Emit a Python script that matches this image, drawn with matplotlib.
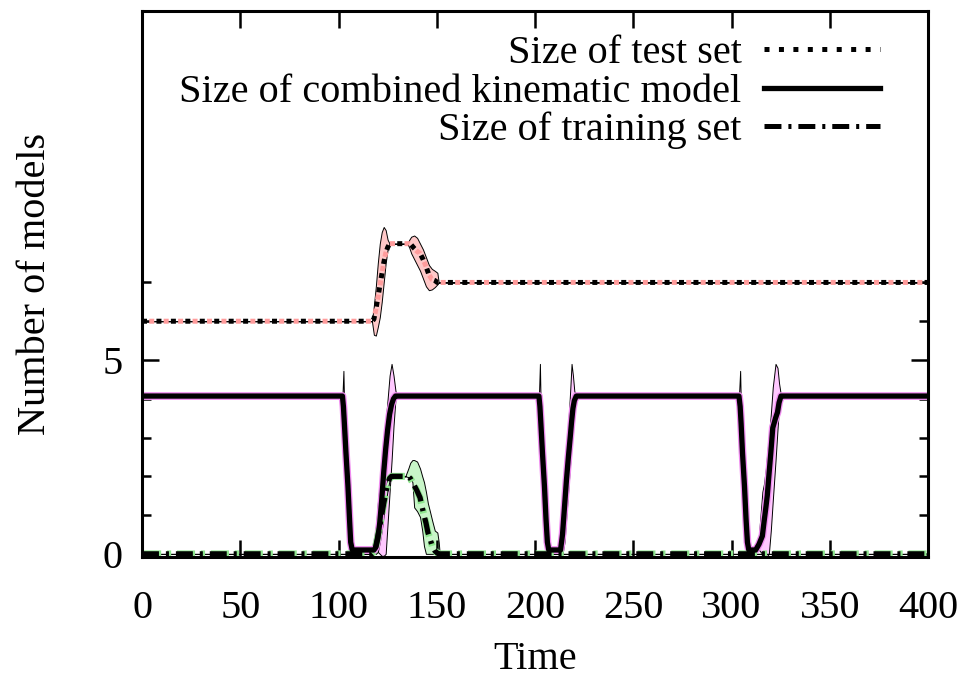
import matplotlib
matplotlib.use("Agg")
import matplotlib.pyplot as plt
from matplotlib.lines import Line2D
from matplotlib.ticker import FixedLocator

plt.rcParams['font.family'] = ['Liberation Serif', 'DejaVu Serif']
plt.rcParams['lines.scale_dashes'] = False

# ---------------- data ----------------
# Size of test set
test_t = [0, 117, 118, 119, 120, 121, 122, 123, 124, 125, 126, 130, 135, 136, 137, 138.5,
          140, 141.5, 143, 144.5, 146, 147.5, 149, 150.3, 151, 400]
test_mean = [6, 6, 6.05, 6.3, 6.6, 6.9, 7.2, 7.5, 7.75, 7.9, 8.0, 8.0, 8.0, 8.0, 7.97, 7.88,
             7.8, 7.75, 7.6, 7.42, 7.2, 7.08, 7.05, 7.0, 7.0, 7.0]
test_hi = [6, 6, 6.4, 6.9, 7.5, 8.0, 8.3, 8.43, 8.35, 8.1, 8.0, 8.0, 8.0, 8.1, 8.18, 8.21,
           8.15, 8.0, 7.85, 7.65, 7.45, 7.35, 7.3, 7.25, 7.0, 7.0]
test_lo = [6, 6, 5.65, 5.63, 5.85, 6.1, 6.5, 7.0, 7.5, 7.85, 8.0, 8.0, 8.0, 7.9, 7.75, 7.6,
           7.45, 7.3, 7.1, 6.9, 6.8, 6.82, 6.88, 6.95, 7.0, 7.0]

# Size of combined kinematic model
comb_t = [0, 102.0, 102.5, 103.0, 103.8, 104.8, 105.6, 106.2, 107.0,
          118, 119, 120, 121, 122, 123, 124, 125, 126, 127, 128, 129, 130,
          202.0, 202.5, 203.0, 203.8, 204.8, 205.6, 206.3, 207.0,
          213.0, 214.0, 215.0, 216.0, 217.0, 218.0, 218.6, 219.3, 220.0, 221.0,
          303.8, 304.4, 304.9, 305.6, 306.6, 307.4, 308.1, 308.8,
          312.3, 314.0, 315.7, 316.5, 317.5, 318.2, 319.0, 320.0, 321.0, 322.4, 323.4, 324.2, 325.2, 326.0,
          400]
comb_mean = [4.07, 4.07, 3.8, 3.35, 2.6, 1.75, 0.9, 0.3, 0.1,
             0.1, 0.17, 0.4, 0.8, 1.4, 2.1, 2.7, 3.2, 3.6, 3.85, 4.0, 4.07, 4.07,
             4.07, 3.8, 3.35, 2.6, 1.75, 0.9, 0.3, 0.1,
             0.1, 0.5, 1.2, 1.9, 2.5, 3.05, 3.4, 3.75, 3.95, 4.07,
             4.07, 3.8, 3.35, 2.6, 1.75, 0.9, 0.3, 0.1,
             0.1, 0.25, 0.46, 0.8, 1.2, 1.5, 2.0, 2.6, 3.25, 3.5, 3.65, 3.9, 4.07, 4.07,
             4.07]
comb_hi = [4.07, 4.07, 4.72, 3.45, 2.7, 1.85, 1.0, 0.35, 0.1,
           0.1, 0.6, 1.3, 1.8, 2.2, 2.8, 3.4, 4.0, 4.6, 4.9, 4.6, 4.2, 4.07,
           4.07, 4.9, 3.45, 2.7, 1.85, 1.0, 0.35, 0.1,
           0.1, 1.0, 1.8, 2.6, 3.4, 4.3, 4.9, 4.6, 4.2, 4.07,
           4.07, 4.72, 3.45, 2.7, 1.85, 1.0, 0.35, 0.1,
           0.1, 0.5, 1.6, 1.8, 2.2, 2.6, 3.0, 3.6, 4.3, 4.9, 4.8, 4.4, 4.07, 4.07,
           4.07]
comb_lo = [4.07, 4.07, 3.7, 3.25, 2.5, 1.65, 0.8, 0.25, 0.1,
           0.1, 0.1, 0.05, 0.0, -0.05, -0.05, 0.0, 0.8, 1.6, 2.4, 3.3, 4.0, 4.07,
           4.07, 3.7, 3.25, 2.5, 1.65, 0.8, 0.25, 0.1,
           0.1, 0.0, 0.3, 1.0, 1.7, 2.4, 2.9, 3.4, 3.8, 4.07,
           4.07, 3.7, 3.25, 2.5, 1.65, 0.8, 0.25, 0.1,
           0.1, 0.1, 0.0, -0.05, -0.05, -0.05, 0.0, 0.6, 1.37, 2.4, 3.2, 3.8, 4.07, 4.07,
           4.07]

# Size of training set
train_t = [0, 117, 118, 119, 120, 121, 122, 123, 124, 125, 126, 127, 134, 135.5, 136.5, 137.6,
           138.5, 140, 141.5, 142.6, 143.5, 144.5, 145.5, 146.5, 147.7, 149, 150.3, 151, 151.5, 400]
train_mean = [0, 0, 0.05, 0.2, 0.45, 0.7, 1.0, 1.3, 1.55, 1.8, 1.95, 2.0, 2.0, 2.0, 1.95, 1.85,
              1.77, 1.62, 1.45, 1.2, 1.0, 0.8, 0.55, 0.4, 0.2, 0.08, 0.02, 0, 0, 0]
train_hi = [0, 0, 0.3, 0.7, 1.0, 1.2, 1.4, 1.6, 1.8, 1.95, 2.0, 2.0, 2.0, 2.2, 2.35, 2.42,
            2.42, 2.38, 2.2, 2.0, 1.85, 1.6, 1.3, 1.1, 0.85, 0.6, 0.55, 0.3, 0, 0]
train_lo = [0, 0, 0, 0, 0.05, 0.3, 0.6, 1.0, 1.3, 1.65, 1.9, 2.0, 2.0, 1.98, 1.95, 1.85,
            1.2, 1.1, 0.95, 0.6, 0.2, 0.0, 0, 0, 0, 0, 0, 0, 0, 0]

labels = ["Size of test set", "Size of combined kinematic model", "Size of training set"]
x_ticks = [0, 50, 100, 150, 200, 250, 300, 350, 400]
y_major = [0, 5]
y_minor = [1, 2, 3, 4, 6, 7]

# ---------------- style ----------------
red_fill, red_line = '#ffc8c8', '#ff9c9c'
pur_fill, pur_line = '#ffc8ff', '#f08cf0'
grn_fill, grn_line = '#c8f5c8', '#8ee68e'

FS = 29
dot_ls = (0, (3.6, 6.8))
dot_ls_pink = (5.2, (3.6, 6.8))
dd_ls = (0, (12.2, 5.0, 2.2, 5.0))
dd_ls_green = (23.6, (13.0, 4.2, 3.0, 4.2))

fig = plt.figure(figsize=(9.7, 6.79), dpi=100)
ax = fig.add_axes([0.1464, 0.1797, 0.9567 - 0.1464, 0.9838 - 0.1797])

# bands
ax.fill_between(test_t, test_lo, test_hi, facecolor=red_fill, edgecolor='black', linewidth=0.7, zorder=1)
ax.fill_between(comb_t, comb_lo, comb_hi, facecolor=pur_fill, edgecolor='black', linewidth=0.7, zorder=1)
ax.fill_between(train_t, train_lo, train_hi, facecolor=grn_fill, edgecolor='black', linewidth=0.7, zorder=1)

# coloured under-lines
ax.plot(test_t, test_mean, color=red_line, lw=3.6, linestyle=dot_ls_pink, dash_capstyle='butt', zorder=2)
ax.plot(comb_t, comb_mean, color=pur_line, lw=5.6, solid_capstyle='butt', zorder=2)
ax.plot(train_t, train_mean, color=grn_line, lw=5.0, linestyle=dd_ls_green, dash_capstyle='butt', zorder=2)

# black lines
ax.plot(test_t, test_mean, color='black', lw=3.6, linestyle=dot_ls, dash_capstyle='butt', zorder=3)
ax.plot(comb_t, comb_mean, color='black', lw=3.8, solid_capstyle='butt', zorder=3)
ax.plot(train_t, train_mean, color='black', lw=3.8, linestyle=dd_ls, dash_capstyle='butt', zorder=3)

ax.set_xlim(0, 400)
ax.set_ylim(-0.08, 14.0)

ax.xaxis.set_major_locator(FixedLocator(x_ticks))
ax.yaxis.set_major_locator(FixedLocator(y_major))
ax.yaxis.set_minor_locator(FixedLocator(y_minor))
ax.set_xticklabels([str(v) for v in x_ticks])
ax.set_yticklabels([str(v) for v in y_major])

for s in ax.spines.values():
    s.set_linewidth(2.2)
    s.set_zorder(5)
ax.tick_params(which='major', direction='in', length=12.5, width=1.8, labelsize=FS,
               top=True, right=True)
ax.tick_params(which='minor', direction='in', length=6.5, width=1.8, top=False, right=True)
ax.tick_params(axis='x', which='major', pad=24)
ax.tick_params(axis='y', which='major', pad=14)

ax.set_xlabel("Time", fontsize=FS, labelpad=10)
ax.set_ylabel("Number of models", fontsize=FS, labelpad=35)

handles = [Line2D([], [], color='black', lw=3.6, linestyle=dot_ls, dash_capstyle='butt'),
           Line2D([], [], color='black', lw=3.8),
           Line2D([], [], color='black', lw=3.6, linestyle=dd_ls, dash_capstyle='butt')]
leg = ax.legend(handles, labels, loc='upper right', bbox_to_anchor=(0.939, 0.956),
                frameon=False, markerfirst=False, fontsize=FS, handlelength=2.87,
                handletextpad=0.57, labelspacing=0.03, borderaxespad=0, borderpad=0)
for t in leg.get_texts():
    t.set_ha('right')

fig.savefig("out.png", dpi=100)
